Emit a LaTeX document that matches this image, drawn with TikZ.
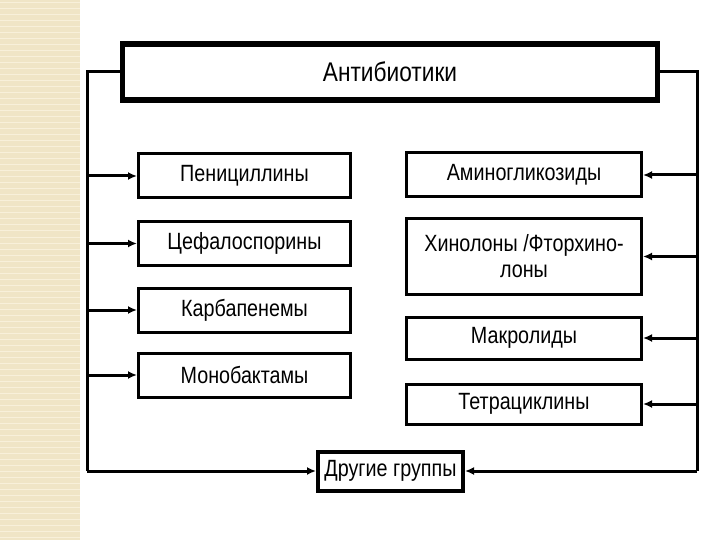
\documentclass[tikz,border=0pt]{standalone}
\usepackage{fontspec}
\setmainfont[FakeStretch=0.84]{Liberation Sans}
\usetikzlibrary{arrows.meta}
\definecolor{stripbeige}{RGB}{240,229,198}
\definecolor{stripline}{RGB}{248,240,218}

\begin{document}
\begin{tikzpicture}[x=1pt, y=-1pt,
  box/.style={draw, line width=3pt, minimum height=44pt, inner sep=2pt,
              align=center, font=\fontsize{23.5}{26}\selectfont},
  lbox/.style={box, minimum width=212pt},
  rbox/.style={box, minimum width=235pt},
  wire/.style={line width=3pt},
  arr/.style={wire, -{Latex[length=9pt,width=8pt]}}]

  \useasboundingbox (0,0) rectangle (720,540);

  %% striped margin on the left
  \fill[stripbeige] (0,0) rectangle (80,540);
  \foreach \y in {3,9,...,540}
    \draw[stripline, line width=1pt] (0,\y) -- (80,\y);

  %% top
  \node[box, line width=5.5pt, minimum width=535pt, minimum height=56pt,
        font=\fontsize{27}{30}\selectfont] (anti) at (390,72) {Антибиотики};

  %% left column
  \node[lbox] (pen)  at (244.5,176) {Пенициллины};
  \node[lbox] (cef)  at (244.5,243.5) {Цефалоспорины};
  \node[lbox] (karb) at (244.5,310) {Карбапенемы};
  \node[lbox] (mono) at (244.5,375) {Монобактамы};

  %% right column
  \node[rbox] (amin) at (524,175) {Аминогликозиды};
  \node[rbox, minimum height=75pt] (hin) at (524,256.5) {Хинолоны /Фторхино-\\лоны};
  \node[rbox, minimum height=42pt] (makr) at (524,338) {Макролиды};
  \node[rbox, minimum height=40pt] (tetr) at (524,404) {Тетрациклины};

  %% bottom
  \node[box, line width=4pt, minimum width=145pt, minimum height=39pt] (drug) at (390.5,471) {Другие группы};

  %% side rails
  \coordinate (lt) at (87,72);
  \coordinate (lb) at (87,471);
  \coordinate (rt) at (697,72);
  \coordinate (rb) at (697,471);

  %% arrows
  \draw[wire] (anti.west) -- (lt) -- (lb);
  \draw[wire] (anti.east) -- (rt) -- (rb);
  \draw[arr] (pen.west -| lt)  -- (pen.west);
  \draw[arr] (cef.west -| lt)  -- (cef.west);
  \draw[arr] (karb.west -| lt) -- (karb.west);
  \draw[arr] (mono.west -| lt) -- (mono.west);
  \draw[arr] (amin.east -| rt) -- (amin.east);
  \draw[arr] (hin.east -| rt)  -- (hin.east);
  \draw[arr] (makr.east -| rt) -- (makr.east);
  \draw[arr] (tetr.east -| rt) -- (tetr.east);
  \draw[arr] (lb) -- (drug.west);
  \draw[arr] (rb) -- (drug.east);
\end{tikzpicture}
\end{document}
